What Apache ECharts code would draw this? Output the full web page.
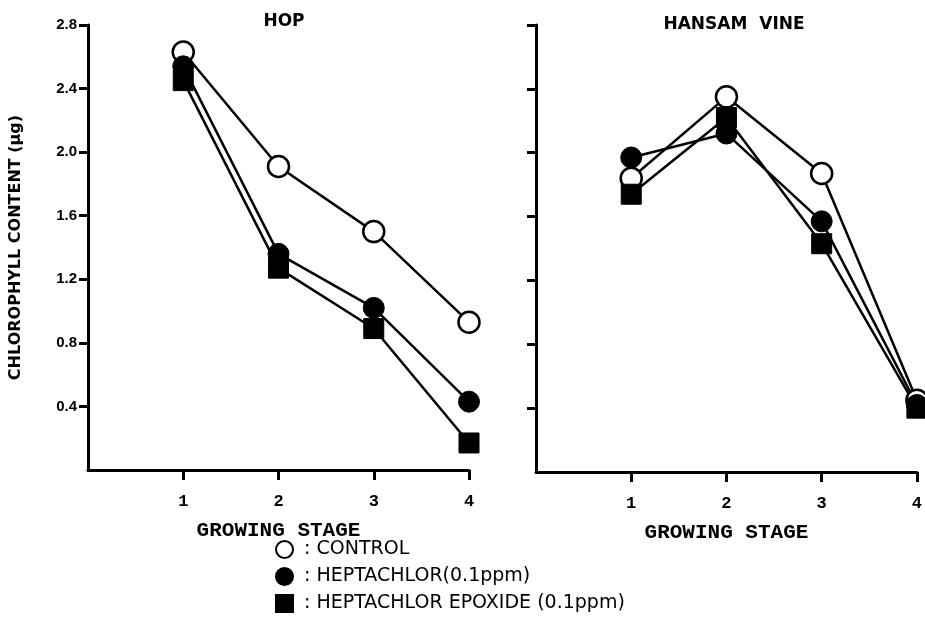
<!DOCTYPE html>
<html>
<head>
<meta charset="utf-8">
<script src="https://cdn.jsdelivr.net/npm/echarts@6/dist/echarts.min.js"></script>
<style>
html, body { margin: 0; padding: 0; background: #fff; }
#main { width: 925px; height: 626px; }
</style>
</head>
<body>
<div id="main"></div>
<script>
// growing stages and chlorophyll content (ug)
var stages = [1, 2, 3, 4];
var yTicks = [0.4, 0.8, 1.2, 1.6, 2.0, 2.4, 2.8];

var hopControl = [2.63, 1.91, 1.50, 0.93];
var hopHepta = [2.54, 1.36, 1.02, 0.43];
var hopEpox = [2.45, 1.27, 0.89, 0.17];

var vineControl = [1.84, 2.35, 1.87, 0.45];
var vineHepta = [1.97, 2.12, 1.57, 0.42];
var vineEpox = [1.74, 2.22, 1.43, 0.40];

var names = ['CONTROL', 'HEPTACHLOR(0.1ppm)', 'HEPTACHLOR EPOXIDE (0.1ppm)'];

function pairs(vals) {
	return stages.map(function (s, i) { return [s, vals[i]]; });
}

var chart = echarts.init(document.getElementById('main'));

function xAxisFor(idx) {
	return {
		type : 'value',
		gridIndex : idx,
		min : 0,
		max : 4,
		interval : 1,
		name : 'GROWING STAGE',
		nameLocation : 'middle',
		nameGap : 50,
		nameTextStyle : {
			color : '#000',
			fontFamily : 'Liberation Mono',
			fontWeight : 'bold',
			fontSize : 21
		},
		axisLine : { lineStyle : { color : '#000', width : 3 } },
		axisTick : {
			customValues : stages,
			length : 10,
			lineStyle : { color : '#000', width : 3 }
		},
		axisLabel : {
			customValues : stages,
			color : '#000',
			fontFamily : 'Liberation Mono',
			fontWeight : 'bold',
			fontSize : 17,
			margin : 23
		},
		splitLine : { show : false }
	};
}

function yAxisFor(idx, showLabels) {
	return {
		type : 'value',
		gridIndex : idx,
		min : 0,
		max : 2.8,
		interval : 0.4,
		name : showLabels ? 'CHLOROPHYLL CONTENT (\u00b5g)' : '',
		nameLocation : 'middle',
		nameRotate : 90,
		nameGap : 64,
		nameTextStyle : {
			color : '#000',
			fontFamily : 'DejaVu Sans',
			fontWeight : 'bold',
			fontSize : 16
		},
		axisLine : { show : true, lineStyle : { color : '#000', width : 3 } },
		axisTick : {
			show : true,
			customValues : yTicks,
			length : 9,
			lineStyle : { color : '#000', width : 3 }
		},
		axisLabel : {
			show : showLabels,
			customValues : yTicks,
			color : '#000',
			fontFamily : 'Liberation Sans',
			fontWeight : 'bold',
			fontSize : 15,
			margin : 11,
			formatter : function (v) { return v.toFixed(1); }
		},
		splitLine : { show : false }
	};
}

function lineSeries(name, idx, vals, kind) {
	var style;
	if (kind === 'open') {
		style = { color : '#fff', borderColor : '#000', borderWidth : 2.5 };
	} else {
		style = { color : '#000', borderColor : '#000', borderWidth : 1 };
	}
	return {
		name : name,
		type : 'line',
		xAxisIndex : idx,
		yAxisIndex : idx,
		data : pairs(vals),
		symbol : kind === 'square' ? 'rect' : 'circle',
		symbolSize : kind === 'square' ? 20 : 21,
		showAllSymbol : true,
		lineStyle : { color : '#000', width : 2.5 },
		itemStyle : style,
		emphasis : { disabled : true },
		animation : false
	};
}

var option = {
	backgroundColor : '#fff',
	animation : false,
	title : [ {
		text : 'HOP',
		left : 279,
		top : 8,
		textAlign : 'center',
		textStyle : {
			color : '#000',
			fontFamily : 'DejaVu Sans',
			fontWeight : 'bold',
			fontSize : 17
		}
	}, {
		text : 'HANSAM  VINE',
		left : 729,
		top : 11,
		textAlign : 'center',
		textStyle : {
			color : '#000',
			fontFamily : 'DejaVu Sans',
			fontWeight : 'bold',
			fontSize : 17
		}
	} ],
	legend : {
		orient : 'vertical',
		left : 270,
		top : 535,
		itemGap : 8,
		itemWidth : 17,
		itemHeight : 17,
		selectedMode : false,
		formatter : ': {name}',
		textStyle : {
			color : '#000',
			fontFamily : 'DejaVu Sans',
			fontSize : 19,
			padding : [0, 0, 0, 6]
		},
		data : [ {
			name : names[0],
			icon : 'circle',
			itemStyle : { color : '#fff', borderColor : '#000', borderWidth : 2 }
		}, {
			name : names[1],
			icon : 'circle',
			itemStyle : { color : '#000' }
		}, {
			name : names[2],
			icon : 'rect',
			itemStyle : { color : '#000' }
		} ]
	},
	grid : [ {
		left : 88,
		top : 25,
		width : 381,
		height : 445
	}, {
		left : 536,
		top : 25,
		width : 386,
		height : 447
	} ],
	xAxis : [ xAxisFor(0), xAxisFor(1) ],
	yAxis : [ yAxisFor(0, true), yAxisFor(1, false) ],
	series : [
		lineSeries(names[0], 0, hopControl, 'open'),
		lineSeries(names[1], 0, hopHepta, 'filled'),
		lineSeries(names[2], 0, hopEpox, 'square'),
		lineSeries(names[0], 1, vineControl, 'open'),
		lineSeries(names[1], 1, vineHepta, 'filled'),
		lineSeries(names[2], 1, vineEpox, 'square')
	]
};
chart.setOption(option);
</script>
</body>
</html>
